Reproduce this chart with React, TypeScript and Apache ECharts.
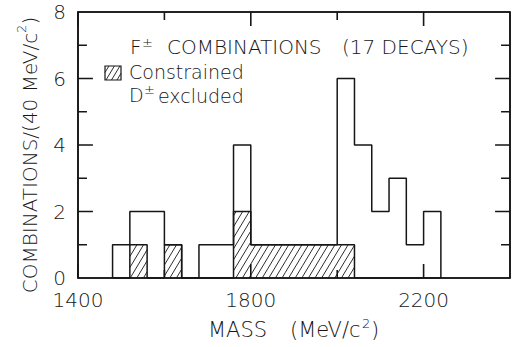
import React, { useEffect, useRef } from "react";
import * as echarts from "echarts";

// Histogram bins (low edges, MeV/c^2), 40 MeV wide
const binLows = [1480, 1520, 1560, 1600, 1640, 1680, 1720, 1760, 1800, 1840, 1880, 1920, 1960, 2000, 2040, 2080, 2120, 2160, 2200];
const binWidth = 40;
// All F± combinations
const allCounts = [1, 2, 2, 1, 0, 1, 1, 4, 1, 1, 1, 1, 1, 6, 4, 2, 3, 1, 2];
// Constrained, D± excluded (hatched)
const constrainedCounts = [0, 1, 0, 1, 0, 0, 0, 2, 1, 1, 1, 1, 1, 1, 0, 0, 0, 0, 0];
const xTickLabels = [1400, 1800, 2200];
const yTickLabels = [0, 2, 4, 6, 8];
const xMajorTicks = [1400, 1800, 2200];
const xMinorTicks = [1600, 2000];
const yMajorTicks = [2, 4, 6];
const yMinorTicks = [1, 3, 5, 7];
const X_MIN = 1400;
const X_MAX = 2400;
const Y_MIN = 0;
const Y_MAX = 8;

const GRID = { left: 78, right: 1, top: 12, bottom: 69 };
const W = 513;
const H = 347;

const INK = "#161616";
const FONT = "'DejaVu Sans', 'Open Sans', sans-serif";
const FW = 300;

function stepOutline(counts: number[]) {
  const pts: number[][] = [[binLows[0], 0]];
  counts.forEach((c, i) => {
    pts.push([binLows[i], c]);
    pts.push([binLows[i] + binWidth, c]);
  });
  pts.push([binLows[binLows.length - 1] + binWidth, 0]);
  return pts;
}

const SLOPE = 0.6;
const GAP = 6.6;
function hatchLines(xL: number, yT: number, xR: number, yB: number, gap = GAP, width = 0.9) {
  const out: any[] = [];
  const cMin = xL + SLOPE * yT;
  const cMax = xR + SLOPE * yB;
  for (let c = Math.ceil(cMin / gap) * gap; c <= cMax; c += gap) {
    const y1 = Math.max(yT, (c - xR) / SLOPE);
    const y2 = Math.min(yB, (c - xL) / SLOPE);
    if (y2 - y1 > 0.8) {
      out.push({
        type: "line",
        shape: { x1: c - SLOPE * y1, y1, x2: c - SLOPE * y2, y2 },
        style: { stroke: INK, lineWidth: width },
      });
    }
  }
  return out;
}

function txt(text: string, x: number, y: number, size: number, extra: any = {}) {
  return {
    type: "text",
    x,
    y,
    z: 10,
    style: {
      text,
      fontSize: size,
      fontFamily: FONT,
      fontWeight: FW,
      fill: INK,
      align: "left",
      verticalAlign: "middle",
      ...extra,
    },
  };
}

// Frame sides drawn as "comb" polylines: each side runs along the axis and juts inward at every tick.
const plotW = W - GRID.left - GRID.right;
const plotH = H - GRID.top - GRID.bottom;
const pxToX = (px: number) => (px * (X_MAX - X_MIN)) / plotW;
const pxToY = (px: number) => (px * (Y_MAX - Y_MIN)) / plotH;

function mergeTicks(major: number[], minor: number[], majLen: number, minLen: number) {
  return [...major.map((v) => [v, majLen]), ...minor.map((v) => [v, minLen])].sort((a, b) => a[0] - b[0]);
}

function combSeries() {
  const xt = mergeTicks(xMajorTicks, xMinorTicks, 14, 8);
  const yt = mergeTicks(yMajorTicks, yMinorTicks, 15, 9);
  const bottom: number[][] = [[X_MIN, Y_MIN]];
  const top: number[][] = [[X_MIN, Y_MAX]];
  xt.forEach(([v, len]) => {
    bottom.push([v, Y_MIN], [v, Y_MIN + pxToY(len)], [v, Y_MIN]);
    top.push([v, Y_MAX], [v, Y_MAX - pxToY(len)], [v, Y_MAX]);
  });
  bottom.push([X_MAX, Y_MIN]);
  top.push([X_MAX, Y_MAX]);
  const left: number[][] = [[X_MIN, Y_MIN]];
  const right: number[][] = [[X_MAX, Y_MIN]];
  yt.forEach(([v, len]) => {
    left.push([X_MIN, v], [X_MIN + pxToX(len), v], [X_MIN, v]);
    right.push([X_MAX, v], [X_MAX - pxToX(len), v], [X_MAX, v]);
  });
  left.push([X_MIN, Y_MAX]);
  right.push([X_MAX, Y_MAX]);
  return [bottom, top, left, right].map((data, i) => ({
    type: "line",
    name: "frame" + i,
    data,
    symbol: "none",
    silent: true,
    clip: false,
    lineStyle: { color: INK, width: 1.6 },
    z: 4,
    xAxisIndex: 0,
    yAxisIndex: 0,
  }));
}

export default function App() {
  const ref = useRef<HTMLDivElement>(null);
  useEffect(() => {
    if (!ref.current) return;
    const chart = echarts.init(ref.current, null, { renderer: "svg" });
    const lineStyle = { color: INK, width: 1.6 };
    const hatchData = binLows
      .map((lo, i) => [lo, lo + binWidth, constrainedCounts[i]])
      .filter((d) => d[2] > 0);

    const legendBox = { x: 105, y: 66, w: 16, h: 14 };

    chart.setOption({
      animation: false,
      backgroundColor: "#ffffff",
      grid: GRID,
      xAxis: [
        {
          type: "value",
          position: "bottom",
          min: X_MIN,
          max: X_MAX,
          interval: 200,
          splitLine: { show: false },
          axisLine: { show: true, onZero: false, lineStyle },
          axisTick: { show: false },
          axisLabel: {
            show: true,
            margin: 12,
            fontSize: 20,
            fontFamily: FONT,
            fontWeight: FW,
            color: INK,
            formatter: (v: number) => (xTickLabels.includes(v) ? String(v) : ""),
          },
        },
        {
          type: "value",
          position: "top",
          min: X_MIN,
          max: X_MAX,
          interval: 200,
          splitLine: { show: false },
          axisLine: { show: true, onZero: false, lineStyle },
          axisTick: { show: false },
          axisLabel: { show: false },
        },
      ],
      yAxis: [
        {
          type: "value",
          position: "left",
          min: Y_MIN,
          max: Y_MAX,
          interval: 2,
          splitLine: { show: false },
          axisLine: { show: true, onZero: false, lineStyle },
          axisTick: { show: false },
          axisLabel: {
            show: true,
            margin: 12,
            fontSize: 20,
            fontFamily: FONT,
            fontWeight: FW,
            color: INK,
            formatter: (v: number) => (yTickLabels.includes(v) ? String(v) : ""),
          },
        },
        {
          type: "value",
          position: "right",
          min: Y_MIN,
          max: Y_MAX,
          interval: 2,
          splitLine: { show: false },
          axisLine: { show: true, onZero: false, lineStyle },
          axisTick: { show: false },
          axisLabel: { show: false },
        },
      ],
      series: [
        {
          type: "custom",
          name: "Constrained",
          coordinateSystem: "cartesian2d",
          xAxisIndex: 0,
          yAxisIndex: 0,
          encode: { x: [0, 1], y: 2 },
          data: hatchData,
          z: 1,
          renderItem: (params: any, api: any) => {
            const p0 = api.coord([api.value(0), api.value(2)]);
            const p1 = api.coord([api.value(1), 0]);
            return { type: "group", children: hatchLines(p0[0], p0[1], p1[0], p1[1]) };
          },
        },
        {
          type: "line",
          name: "Constrained outline",
          xAxisIndex: 0,
          yAxisIndex: 0,
          data: stepOutline(constrainedCounts),
          symbol: "none",
          lineStyle: { color: INK, width: 1.5 },
          z: 2,
        },
        {
          type: "line",
          name: "All combinations",
          xAxisIndex: 0,
          yAxisIndex: 0,
          data: stepOutline(allCounts),
          symbol: "none",
          lineStyle: { color: INK, width: 1.5 },
          z: 3,
        },
        ...combSeries(),
      ],
      graphic: [
        txt("F", 130, 47, 20),
        txt("±", 142, 42, 13),
        txt("COMBINATIONS", 167, 47, 20),
        txt("(17 DECAYS)", 342, 47, 20),
        {
          type: "rect",
          shape: { x: legendBox.x, y: legendBox.y, width: legendBox.w, height: legendBox.h },
          style: { fill: "none", stroke: INK, lineWidth: 1.2 },
        },
        {
          type: "group",
          children: hatchLines(legendBox.x, legendBox.y, legendBox.x + legendBox.w, legendBox.y + legendBox.h, 5.5, 0.9),
        },
        txt("Constrained", 129, 72, 19),
        txt("D", 129, 95, 19),
        txt("±", 144, 89, 13),
        txt("excluded", 158, 96, 19),
        txt("MASS", 208, 330, 21),
        txt("(MeV/c", 290, 330, 21),
        txt("2", 362, 323, 13),
        txt(")", 371, 330, 21),
        {
          type: "text",
          x: 30,
          y: 155,
          rotation: Math.PI / 2,
          z: 10,
          style: {
            text: "{b|COMBINATIONS/(40 MeV/c}{s|2}{b|)}",
            align: "center",
            verticalAlign: "middle",
            fill: INK,
            rich: {
              b: { fontSize: 20, fontFamily: FONT, fontWeight: FW, lineHeight: 30, fill: INK },
              s: { fontSize: 13, fontFamily: FONT, fontWeight: FW, lineHeight: 13, verticalAlign: "top", fill: INK },
            },
          },
        },
      ],
    });
    return () => chart.dispose();
  }, []);
  return (
    <div
      ref={ref}
      style={{ position: "absolute", left: 0, top: 0, width: W, height: H, background: "#fff" }}
    />
  );
}
